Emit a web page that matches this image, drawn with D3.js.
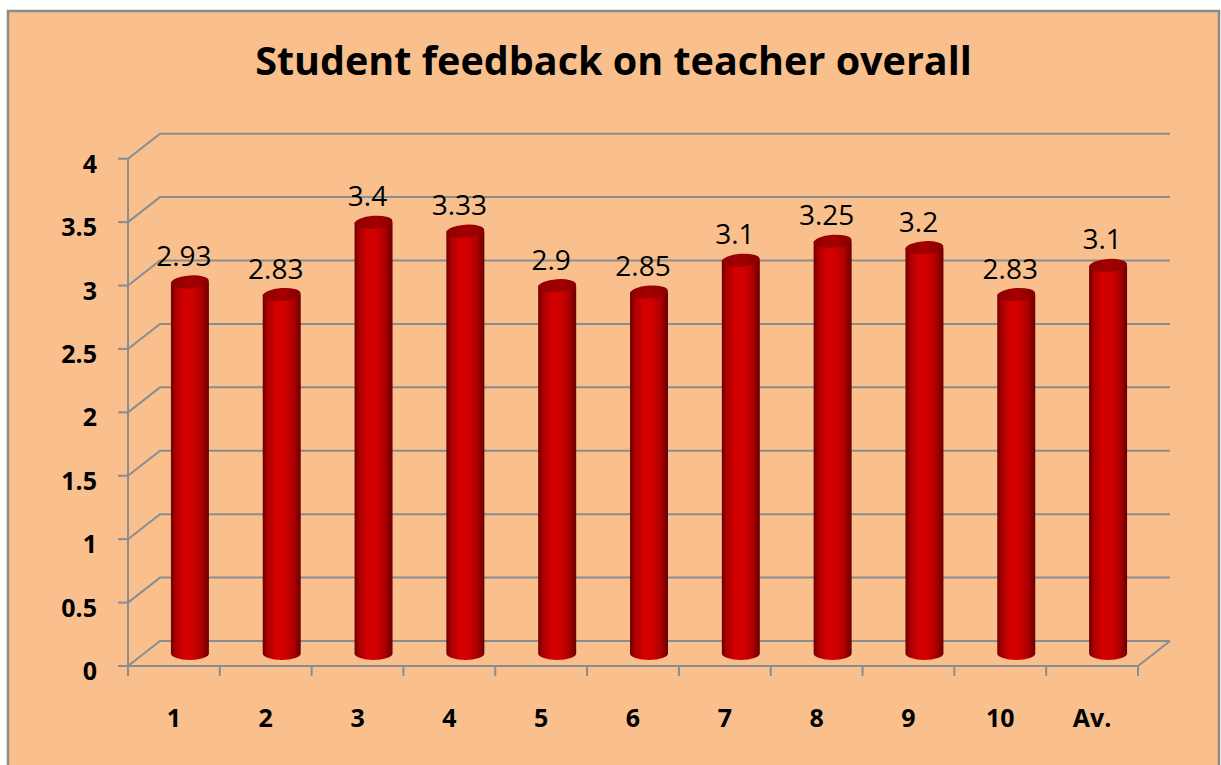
<!DOCTYPE html>
<html>
<head>
<meta charset="utf-8">
<script src="https://cdn.jsdelivr.net/npm/d3@7"></script>
<style>
  html, body { margin: 0; padding: 0; background: #ffffff; }
  svg { display: block; }
</style>
</head>
<body>
<svg id="chart" width="1221" height="765"></svg>
<script>
'use strict';

// ── Data ──────────────────────────────────────────────────
const categories = ['1', '2', '3', '4', '5', '6', '7', '8', '9', '10', 'Av.'];
const values     = [2.93, 2.83, 3.4, 3.33, 2.9, 2.85, 3.1, 3.25, 3.2, 2.83, 3.06];
const valueLabels = ['2.93', '2.83', '3.4', '3.33', '2.9', '2.85', '3.1', '3.25', '3.2', '2.83', '3.1'];
const yTicks     = [0, 0.5, 1, 1.5, 2, 2.5, 3, 3.5, 4];
const title      = 'Student feedback on teacher overall';

// ── Layout ────────────────────────────────────────────────
const W = 1221, H = 765;
const plot = { left: 128, right: 1138, top: 158.7, bottom: 666 };
const depth = { dx: 32, dy: -25 };
const gridColor = '#8a8d8f';
const font = '"Open Sans", "Noto Sans", sans-serif';

const svg = d3.select('#chart');

const x = d3.scaleBand().domain(categories).range([plot.left, plot.right]).padding(0);
const y = d3.scaleLinear().domain([0, 4]).range([plot.bottom, plot.top]);

// background panel
svg.append('rect')
  .attr('x', 8).attr('y', 11)
  .attr('width', 1211).attr('height', 770)
  .attr('fill', '#f9c08e')
  .attr('stroke', '#8c8c8c')
  .attr('stroke-width', 2.5);

// title (fit to the reference width)
const titleEl = svg.append('text')
  .attr('x', 613.5).attr('y', 75)
  .attr('text-anchor', 'middle')
  .attr('font-family', font)
  .attr('font-weight', 700)
  .attr('font-size', 36)
  .attr('fill', '#000')
  .text(title);
const tw = titleEl.node().getComputedTextLength();
titleEl.attr('font-size', 36 * 717 / tw);

// ── Gradients ─────────────────────────────────────────────
const defs = svg.append('defs');
const bodyGrad = defs.append('linearGradient').attr('id', 'cylBody')
  .attr('x1', '0%').attr('x2', '100%').attr('y1', '0%').attr('y2', '0%');
[['0%', '#6e0000'], ['12%', '#a80000'], ['35%', '#d40000'], ['55%', '#d20000'],
 ['80%', '#b00000'], ['100%', '#6a0000']].forEach(([o, c]) =>
  bodyGrad.append('stop').attr('offset', o).attr('stop-color', c));

const topGrad = defs.append('linearGradient').attr('id', 'cylTop')
  .attr('x1', '0%').attr('x2', '100%').attr('y1', '0%').attr('y2', '0%');
[['0%', '#8e0000'], ['50%', '#a40000'], ['100%', '#8a0000']].forEach(([o, c]) =>
  topGrad.append('stop').attr('offset', o).attr('stop-color', c));

// ── Walls & grid ──────────────────────────────────────────
const grid = svg.append('g')
  .attr('fill', 'none')
  .attr('stroke', gridColor)
  .attr('stroke-width', 2);

yTicks.forEach(t => {
  const yy = y(t);
  // diagonal on side wall + line on back wall
  grid.append('path')
    .attr('d', `M${plot.left},${yy} L${plot.left + depth.dx},${yy + depth.dy} L${plot.right + depth.dx},${yy + depth.dy}`);
  // tick mark on front axis
  grid.append('line')
    .attr('x1', plot.left - 10).attr('x2', plot.left)
    .attr('y1', yy).attr('y2', yy);
});

// front vertical axis
grid.append('line')
  .attr('x1', plot.left).attr('x2', plot.left)
  .attr('y1', y(4)).attr('y2', y(0) + 10);

// floor front edge + right diagonal
grid.append('path')
  .attr('d', `M${plot.left},${y(0)} L${plot.right},${y(0)} L${plot.right + depth.dx},${y(0) + depth.dy}`);

// category ticks
d3.range(categories.length + 1).forEach(i => {
  const xx = plot.left + i * x.bandwidth();
  grid.append('line')
    .attr('x1', xx).attr('x2', xx)
    .attr('y1', y(0)).attr('y2', y(0) + 10);
});

// y labels
svg.append('g').selectAll('text')
  .data(yTicks)
  .join('text')
  .attr('x', 97)
  .attr('y', d => y(d) + 4)
  .attr('text-anchor', 'end')
  .attr('dominant-baseline', 'central')
  .attr('font-family', font)
  .attr('font-weight', 700)
  .attr('font-size', 25)
  .attr('fill', '#000')
  .text(d => d);

// x labels
svg.append('g').selectAll('text')
  .data(categories)
  .join('text')
  .attr('x', d => x(d) + x.bandwidth() / 2)
  .attr('y', 727)
  .attr('text-anchor', 'middle')
  .attr('font-family', font)
  .attr('font-weight', 700)
  .attr('font-size', 25)
  .attr('fill', '#000')
  .text(d => d);

// ── Cylinders ─────────────────────────────────────────────
const rx = 19, ry = 6.5;
const cyl = svg.append('g');

categories.forEach((c, i) => {
  const cx = x(c) + x.bandwidth() / 2 + depth.dx / 2;
  const top = y(values[i]) + depth.dy / 2;
  const bot = y(0) + depth.dy / 2;

  cyl.append('path')
    .attr('d', `M${cx - rx},${top} L${cx - rx},${bot} A${rx},${ry} 0 0 0 ${cx + rx},${bot} L${cx + rx},${top} Z`)
    .attr('fill', 'url(#cylBody)');

  cyl.append('ellipse')
    .attr('cx', cx).attr('cy', top)
    .attr('rx', rx).attr('ry', ry)
    .attr('transform', `rotate(-4 ${cx} ${top})`)
    .attr('fill', 'url(#cylTop)');

  svg.append('text')
    .attr('x', cx - 6)
    .attr('y', top - 16)
    .attr('text-anchor', 'middle')
    .attr('font-family', font)
    .attr('font-weight', 500)
    .attr('font-size', 28)
    .attr('fill', '#000')
    .text(valueLabels[i]);
});
</script>
</body>
</html>
